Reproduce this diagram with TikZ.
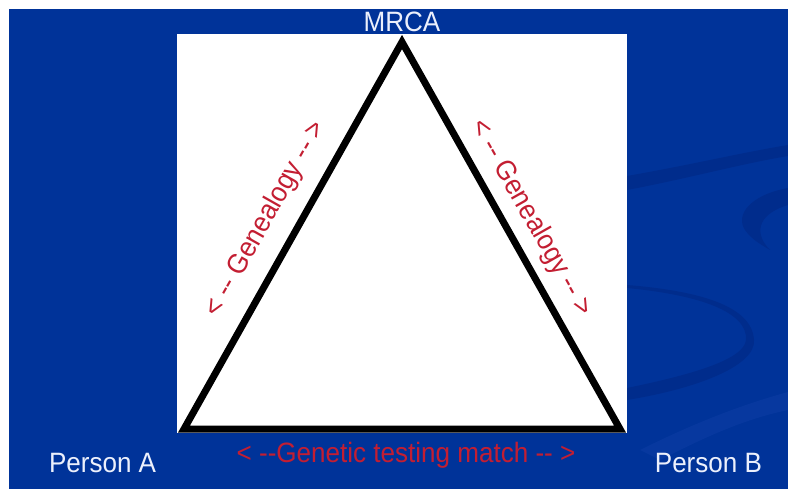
\documentclass[tikz,border=0pt]{standalone}
\usepackage{fontspec}
\setmainfont[FakeStretch=0.93]{Liberation Sans}
\newcommand\dsh{-{}-}
\definecolor{bgblue}{RGB}{0,51,153}
\definecolor{swoosh}{RGB}{0,44,140}
\definecolor{swooshlight}{RGB}{14,62,165}
\definecolor{lblred}{RGB}{195,30,50}
\definecolor{lblwhite}{RGB}{236,240,252}
\begin{document}
\begin{tikzpicture}[x=1pt,y=-1pt,
  lbl/.style={inner sep=0pt,outer sep=0pt,font=\fontsize{28}{32}\selectfont},
  wlbl/.style={lbl,text=lblwhite},
  rlbl/.style={lbl,text=lblred},
  edge/.style={line width=7pt,line join=miter,draw=black}]
\useasboundingbox (0,0) rectangle (788,489);
\fill[white] (0,0) rectangle (788,489);
\fill[bgblue] (9,9) rectangle (788,489);
% background swooshes
\fill[swoosh] (627,176) .. controls (690,165) and (740,153) .. (788,145) -- (788,156) .. controls (740,164) and (690,178) .. (627,190) -- cycle;
\fill[swoosh] (788,188) .. controls (750,195) and (735,215) .. (745,230) .. controls (752,240) and (762,245) .. (770,250) .. controls (755,235) and (755,215) .. (788,205) -- cycle;
\fill[swoosh] (627,285) .. controls (700,291) and (752,306) .. (754,340) .. controls (756,365) and (700,388) .. (627,400) -- (627,388) .. controls (690,375) and (744,360) .. (746,340) .. controls (748,312) and (700,295) .. (627,288) -- cycle;
\fill[swooshlight,opacity=0.5] (640,450) .. controls (690,425) and (740,405) .. (788,392) -- (788,410) .. controls (740,420) and (700,440) .. (660,460) -- cycle;
% white panel
\fill[white] (177,34) rectangle (627,433);
% triangle
\coordinate (A) at (184,429);
\coordinate (B) at (620,429);
\coordinate (M) at (402,42);
\draw[edge] (A) -- (M) -- (B) -- cycle;
% labels
\node[wlbl,anchor=base] (mrca) at (402,32) {MRCA};
\node[wlbl,anchor=base west] (pa) at (49,472) {Person A};
\node[wlbl,anchor=base east] (pb) at (762,472) {Person B};
\node[rlbl,anchor=base] (gt) at (406,462) {< \dsh Genetic testing match \dsh{} >};
\node[rlbl,rotate=60.5] (gl) at (266,219) {< \dsh{} Genealogy \dsh{} >};
\node[rlbl,rotate=-60.5] (gr) at (531,218) {< \dsh{} Genealogy \dsh{} >};
\end{tikzpicture}
\end{document}
